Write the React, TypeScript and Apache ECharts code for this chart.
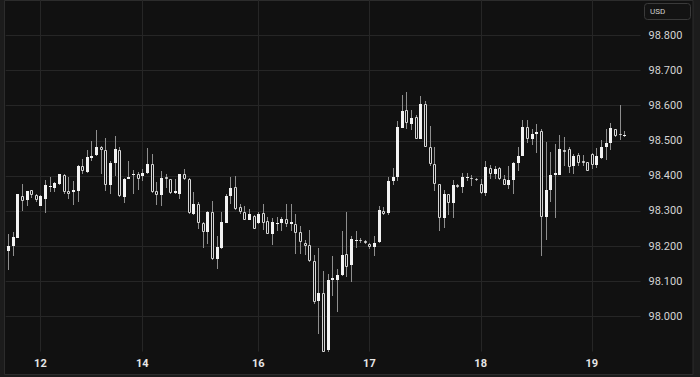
import React, { useEffect, useRef } from "react";
import * as echarts from "echarts";

// Hourly sessions: [day, first hour, last hour]
const sessions: [number, number, number][] = [
  [11, 17, 23], [12, 0, 21], [14, 23, 23], [15, 0, 23], [16, 0, 23],
  [17, 0, 23], [18, 0, 23], [19, 0, 10],
];
const categories: string[] = sessions.flatMap(([d, s, e]) => {
  const out: string[] = [];
  for (let h = s; h <= e; h++) out.push(`${d} ${String(h).padStart(2, "0")}:00`);
  return out;
});

const tickCategories = ["12 00:00", "14 23:00", "16 00:00", "17 00:00", "18 00:00", "19 00:00"];
const tickLabels = ["12", "14", "16", "17", "18", "19"];
const priceLevels = [98.0, 98.1, 98.2, 98.3, 98.4, 98.5, 98.6, 98.7, 98.8];

const opens = [
  98.187, 98.200, 98.224, 98.343, 98.330, 98.359, 98.345, 98.314, 98.335, 98.368,
  98.366, 98.377, 98.403, 98.358, 98.354, 98.358, 98.429, 98.410, 98.451, 98.459,
  98.482, 98.474, 98.373, 98.437, 98.474, 98.341, 98.392, 98.403, 98.404, 98.399,
  98.407, 98.434, 98.357, 98.345, 98.397, 98.390, 98.352, 98.349, 98.405, 98.392,
  98.291, 98.320, 98.267, 98.240, 98.298, 98.162, 98.195, 98.267, 98.342, 98.367,
  98.312, 98.298, 98.274, 98.286, 98.265, 98.294, 98.272, 98.234, 98.265, 98.265,
  98.276, 98.262, 98.264, 98.239, 98.209, 98.204, 98.159, 98.043, 98.068, 97.905,
  98.104, 98.103, 98.118, 98.179, 98.146, 98.216, 98.216, 98.214, 98.207, 98.198,
  98.212, 98.301, 98.295, 98.384, 98.396, 98.537, 98.586, 98.546, 98.567, 98.506,
  98.605, 98.483, 98.434, 98.377, 98.279, 98.347, 98.324, 98.373, 98.367, 98.396,
  98.395, 98.392, 98.378, 98.351, 98.422, 98.406, 98.422, 98.390, 98.375, 98.388,
  98.436, 98.457, 98.540, 98.506, 98.518, 98.527, 98.284, 98.361, 98.401, 98.403,
  98.474, 98.476, 98.427, 98.459, 98.443, 98.438, 98.462, 98.431, 98.452, 98.481,
  98.493, 98.534, 98.519, 98.516,
];
const closes = [
  98.201, 98.225, 98.347, 98.328, 98.357, 98.345, 98.332, 98.343, 98.374, 98.371,
  98.379, 98.404, 98.354, 98.349, 98.360, 98.429, 98.414, 98.454, 98.457, 98.481,
  98.474, 98.373, 98.436, 98.475, 98.342, 98.390, 98.398, 98.404, 98.392, 98.408,
  98.434, 98.354, 98.345, 98.393, 98.392, 98.350, 98.356, 98.404, 98.390, 98.293,
  98.321, 98.265, 98.240, 98.298, 98.162, 98.198, 98.268, 98.343, 98.365, 98.305,
  98.296, 98.274, 98.292, 98.250, 98.292, 98.266, 98.234, 98.270, 98.266, 98.276,
  98.264, 98.268, 98.237, 98.211, 98.201, 98.157, 98.040, 98.068, 97.900, 98.103,
  98.108, 98.117, 98.176, 98.142, 98.221, 98.217, 98.214, 98.209, 98.198, 98.210,
  98.303, 98.290, 98.385, 98.398, 98.539, 98.584, 98.549, 98.563, 98.506, 98.605,
  98.483, 98.434, 98.377, 98.279, 98.347, 98.324, 98.373, 98.367, 98.398, 98.397,
  98.392, 98.387, 98.352, 98.424, 98.406, 98.418, 98.390, 98.375, 98.389, 98.436,
  98.455, 98.539, 98.504, 98.520, 98.525, 98.284, 98.361, 98.403, 98.408, 98.476,
  98.467, 98.424, 98.455, 98.437, 98.437, 98.415, 98.431, 98.455, 98.483, 98.493,
  98.537, 98.513, 98.515, 98.517,
];
const lows = [
  98.133, 98.172, 98.223, 98.300, 98.313, 98.337, 98.326, 98.313, 98.295, 98.354,
  98.354, 98.373, 98.349, 98.333, 98.317, 98.326, 98.404, 98.408, 98.443, 98.457,
  98.406, 98.356, 98.347, 98.399, 98.341, 98.323, 98.390, 98.347, 98.361, 98.384,
  98.406, 98.352, 98.318, 98.315, 98.365, 98.347, 98.348, 98.333, 98.388, 98.292,
  98.289, 98.249, 98.195, 98.207, 98.160, 98.134, 98.193, 98.265, 98.321, 98.304,
  98.290, 98.273, 98.273, 98.248, 98.262, 98.246, 98.234, 98.202, 98.244, 98.242,
  98.253, 98.242, 98.178, 98.178, 98.176, 98.156, 98.035, 97.951, 97.900, 97.900,
  98.059, 98.012, 98.115, 98.111, 98.098, 98.195, 98.209, 98.207, 98.192, 98.173,
  98.210, 98.289, 98.289, 98.373, 98.384, 98.537, 98.532, 98.530, 98.504, 98.504,
  98.481, 98.429, 98.356, 98.242, 98.251, 98.289, 98.279, 98.364, 98.352, 98.384,
  98.371, 98.384, 98.349, 98.343, 98.390, 98.390, 98.387, 98.373, 98.363, 98.347,
  98.415, 98.455, 98.493, 98.487, 98.465, 98.172, 98.218, 98.326, 98.279, 98.401,
  98.427, 98.408, 98.406, 98.427, 98.429, 98.413, 98.420, 98.422, 98.448, 98.446,
  98.474, 98.509, 98.501, 98.511,
];
const highs = [
  98.234, 98.240, 98.349, 98.378, 98.358, 98.361, 98.349, 98.345, 98.387, 98.396,
  98.382, 98.406, 98.406, 98.396, 98.384, 98.431, 98.448, 98.474, 98.499, 98.530,
  98.485, 98.507, 98.443, 98.513, 98.481, 98.393, 98.443, 98.417, 98.410, 98.420,
  98.478, 98.462, 98.382, 98.415, 98.406, 98.392, 98.390, 98.406, 98.418, 98.393,
  98.354, 98.326, 98.270, 98.300, 98.328, 98.230, 98.298, 98.349, 98.396, 98.399,
  98.321, 98.315, 98.305, 98.289, 98.298, 98.319, 98.284, 98.279, 98.284, 98.284,
  98.319, 98.319, 98.291, 98.256, 98.218, 98.246, 98.174, 98.195, 98.129, 98.120,
  98.172, 98.134, 98.244, 98.296, 98.228, 98.242, 98.223, 98.216, 98.210, 98.228,
  98.315, 98.312, 98.396, 98.422, 98.556, 98.630, 98.637, 98.586, 98.574, 98.626,
  98.612, 98.541, 98.481, 98.378, 98.359, 98.348, 98.389, 98.378, 98.408, 98.408,
  98.403, 98.393, 98.390, 98.443, 98.431, 98.429, 98.424, 98.401, 98.429, 98.438,
  98.483, 98.558, 98.560, 98.532, 98.546, 98.534, 98.496, 98.468, 98.490, 98.515,
  98.509, 98.481, 98.462, 98.465, 98.459, 98.438, 98.465, 98.478, 98.502, 98.532,
  98.551, 98.534, 98.602, 98.526,
];

const BG = "#111111";
const GRID = "#262626";
const WICK = "#8e8e8e";
const UP_FILL = "#f2f2f2";
const DOWN_BORDER = "#d6d6d6";
const FONT = "Roboto, 'Noto Sans', sans-serif";

export default function App() {
  const ref = useRef<HTMLDivElement>(null);

  useEffect(() => {
    document.body.style.margin = "0";
    document.body.style.background = "#1c1c1c";
    if (!ref.current) return;
    const chart = echarts.init(ref.current, null, { renderer: "svg" });

    const candleData = opens.map((o, i) => [i, o, closes[i], lows[i], highs[i]]);

    const renderCandle = (params: any, api: any) => {
      const i = api.value(0);
      const o = api.value(1);
      const c = api.value(2);
      const l = api.value(3);
      const h = api.value(4);
      const pO = api.coord([i, o]);
      const pC = api.coord([i, c]);
      const pL = api.coord([i, l]);
      const pH = api.coord([i, h]);
      const cx = Math.round(pO[0]);
      const up = c >= o;
      const yTop = Math.round(Math.min(pO[1], pC[1]));
      const yBot = Math.max(Math.round(Math.max(pO[1], pC[1])), yTop + 1);
      const wick = {
        type: "line",
        shape: { x1: cx + 0.5, y1: Math.round(pH[1]), x2: cx + 0.5, y2: Math.round(pL[1]) },
        style: { stroke: WICK, lineWidth: 1 },
      };
      const body = up
        ? {
            type: "rect",
            shape: { x: cx - 1, y: yTop, width: 3, height: yBot - yTop },
            style: { fill: UP_FILL },
          }
        : {
            type: "rect",
            shape: { x: cx - 0.5, y: yTop + 0.5, width: 2, height: Math.max(yBot - yTop - 1, 0) },
            style: { fill: BG, stroke: DOWN_BORDER, lineWidth: 1 },
          };
      return { type: "group", children: [wick, body] };
    };

    const option: any = {
      animation: false,
      backgroundColor: "#1c1c1c",
      grid: { left: 5.68, right: 59.5, top: -4.3, bottom: 25.4, containLabel: false },
      xAxis: {
        type: "category",
        data: categories,
        boundaryGap: true,
        axisLine: { show: false },
        axisTick: { show: false },
        splitLine: { show: false },
        axisLabel: {
          interval: (_idx: number, val: string) => tickCategories.includes(val),
          formatter: (val: string) => {
            const k = tickCategories.indexOf(val);
            return k >= 0 ? tickLabels[k] : "";
          },
          color: "#e6e6e6",
          fontSize: 11,
          fontWeight: "bold",
          fontFamily: FONT,
          margin: 6,
        },
      },
      yAxis: {
        type: "value",
        position: "right",
        min: 97.9,
        max: 98.9,
        interval: 0.1,
        axisLine: { show: false },
        axisTick: { show: false },
        splitLine: { show: false },
        axisLabel: {
          formatter: (v: number) => (v > 97.95 && v < 98.85 ? v.toFixed(3) : ""),
          color: "#d4d4d4",
          fontSize: 11,
          fontFamily: FONT,
          margin: 8,
        },
      },
      graphic: [
        {
          type: "rect",
          z: -10,
          silent: true,
          shape: { x: 4.5, y: 0.5, width: 688.5, height: 374 },
          style: { fill: BG, stroke: "#2c2c2c", lineWidth: 1 },
        },
        {
          type: "rect",
          z: 100,
          silent: true,
          shape: { x: 644.5, y: 3.5, width: 46, height: 16, r: 3 },
          style: { fill: "#131313", stroke: "#3a3a3a", lineWidth: 1 },
        },
        {
          type: "text",
          z: 101,
          silent: true,
          x: 650,
          y: 11.5,
          style: {
            text: "USD",
            fill: "#cfcfcf",
            fontSize: 8,
            fontFamily: FONT,
            verticalAlign: "middle",
          },
        },
      ],
      series: [
        {
          type: "custom",
          name: "hgrid",
          z: 1,
          silent: true,
          data: priceLevels.map((p) => [0, p]),
          encode: { x: 0, y: 1 },
          renderItem: (params: any, api: any) => {
            const y = Math.round(api.coord([0, api.value(1)])[1]) + 0.5;
            const cs = params.coordSys;
            return {
              type: "line",
              shape: { x1: cs.x, y1: y, x2: cs.x + cs.width, y2: y },
              style: { stroke: GRID, lineWidth: 1 },
            };
          },
        },
        {
          type: "custom",
          name: "vgrid",
          z: 1,
          silent: true,
          data: tickCategories.map((c) => [categories.indexOf(c), 98.4]),
          encode: { x: 0, y: 1 },
          renderItem: (params: any, api: any) => {
            const x = Math.round(api.coord([api.value(0), 98.4])[0]) + 0.5;
            const cs = params.coordSys;
            return {
              type: "line",
              shape: { x1: x, y1: Math.max(cs.y, 0), x2: x, y2: cs.y + cs.height },
              style: { stroke: GRID, lineWidth: 1 },
            };
          },
        },
        {
          type: "custom",
          name: "USD",
          z: 3,
          data: candleData,
          encode: { x: 0, y: [1, 2, 3, 4] },
          renderItem: renderCandle,
        },
      ],
    };

    chart.setOption(option);
    return () => chart.dispose();
  }, []);

  return <div ref={ref} style={{ width: 700, height: 377 }} />;
}
